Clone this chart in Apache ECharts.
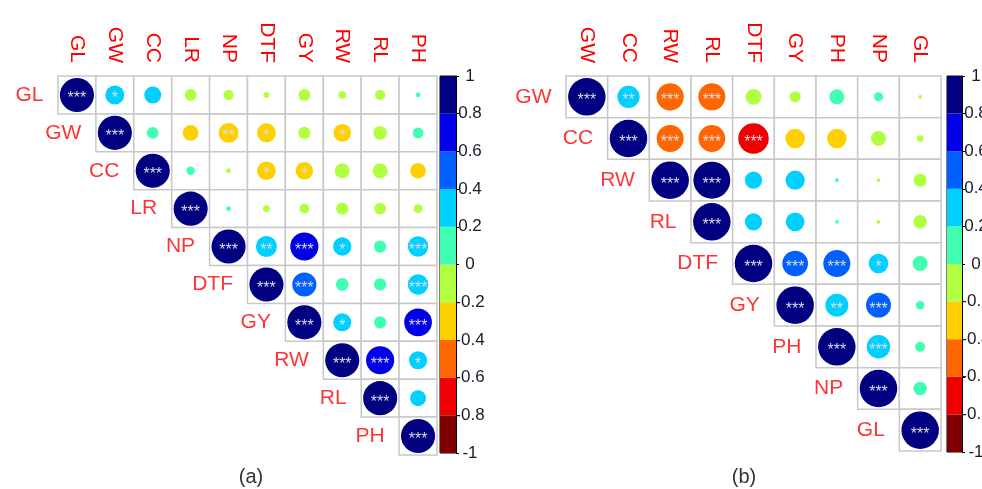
<!DOCTYPE html>
<html>
<head>
<meta charset="utf-8">
<script src="https://cdn.jsdelivr.net/npm/echarts@6/dist/echarts.min.js"></script>
<style>
  html, body { margin: 0; padding: 0; background: #fff; }
  #main { width: 982px; height: 489px; }
</style>
</head>
<body>
<div id="main"></div>
<script>
// panel (a) variables, upper triangle rows (diagonal first)
const varsA = ['GL', 'GW', 'CC', 'LR', 'NP', 'DTF', 'GY', 'RW', 'RL', 'PH']
const corrA = [
  [1, 0.31, 0.25, -0.12, -0.09, -0.03, -0.12, -0.05, -0.09, 0.02],
  [1, 0.12, -0.21, -0.34, -0.31, -0.13, -0.27, -0.16, 0.10],
  [1, 0.06, -0.02, -0.30, -0.26, -0.19, -0.19, -0.21],
  [1, 0.02, -0.04, -0.08, -0.13, -0.12, -0.07],
  [1, 0.38, 0.68, 0.29, 0.13, 0.36],
  [1, 0.50, 0.14, 0.13, 0.36],
  [1, 0.28, 0.13, 0.66],
  [1, 0.68, 0.28],
  [1, 0.22],
  [1]
]
const starsA = [
  [3, 1, 0, 0, 0, 0, 0, 0, 0, 0],
  [3, 0, 0, 2, 1, 0, 1, 0, 0],
  [3, 0, 0, 1, 1, 0, 0, 0],
  [3, 0, 0, 0, 0, 0, 0],
  [3, 2, 3, 1, 0, 3],
  [3, 3, 0, 0, 3],
  [3, 1, 0, 3],
  [3, 3, 1],
  [3, 0],
  [3]
]

// panel (b)
const varsB = ['GW', 'CC', 'RW', 'RL', 'DTF', 'GY', 'PH', 'NP', 'GL']
const corrB = [
  [1, 0.35, -0.53, -0.52, -0.18, -0.09, 0.16, 0.06, -0.01],
  [1, -0.52, -0.51, -0.66, -0.27, -0.27, -0.16, -0.03],
  [1, 0.97, 0.21, 0.26, 0.01, -0.01, -0.12],
  [1, 0.21, 0.25, 0.01, -0.01, -0.13],
  [1, 0.47, 0.52, 0.27, 0.16],
  [1, 0.37, 0.44, 0.05],
  [1, 0.39, 0.07],
  [1, 0.13],
  [1]
]
const starsB = [
  [3, 2, 3, 3, 0, 0, 0, 0, 0],
  [3, 3, 3, 3, 0, 0, 0, 0],
  [3, 3, 0, 0, 0, 0, 0],
  [3, 0, 0, 0, 0, 0],
  [3, 3, 3, 1, 0],
  [3, 2, 3, 0],
  [3, 3, 0],
  [3, 0],
  [3]
]

// colour bar: bins from -1 to 1, step 0.2
const binColors = ['#7F0000', '#EE0000', '#FF6600', '#FFD000', '#B0FF40',
  '#40FFB0', '#00D0FF', '#0060FF', '#0000E6', '#000080']
const binNames = ['b1', 'b2', 'b3', 'b4', 'b5', 'b6', 'b7', 'b8', 'b9', 'b10']
const barTicks = ['-1', '-0.8', '-0.6', '-0.4', '-0.2', '0', '0.2', '0.4', '0.6', '0.8', '1']

const font = 'Liberation Sans, Arial, sans-serif'
const red = '#FF0000'

const colorOf = (r) => binColors[Math.min(9, Math.floor((r + 1) / 0.2 + 1e-9))]

const cellData = (corr, stars) => {
  const out = []
  corr.forEach((row, i) => {
    row.forEach((r, k) => {
      out.push({ value: [i + k, i, r, stars[i][k]], itemStyle: { color: colorOf(r), opacity: 1 } })
    })
  })
  return out
}

const panelSeries = (vars, corr, stars, ax, ay, cell) => {
  const data = cellData(corr, stars)
  return [
    {
      type: 'custom',
      xAxisIndex: ax,
      yAxisIndex: ay,
      silent: true,
      z: 1,
      encode: { x: 0, y: 1 },
      data: data.map((d) => d.value),
      renderItem: (params, api) => {
        const c = api.coord([api.value(0), api.value(1)])
        const s = api.size([1, 1])
        return {
          type: 'rect',
          shape: { x: c[0] - s[0] / 2, y: c[1] - s[1] / 2, width: s[0], height: s[1] },
          style: { fill: '#fff', stroke: '#C8C8C8', lineWidth: 1.5 },
        }
      },
    },
    {
      type: 'scatter',
      xAxisIndex: ax,
      yAxisIndex: ay,
      silent: true,
      z: 3,
      data: data,
      symbol: 'circle',
      symbolSize: (val) => cell * 0.9 * Math.sqrt(Math.abs(val[2])),
      itemStyle: { opacity: 1 },
      label: {
        show: true,
        position: 'inside',
        formatter: (p) => '*'.repeat(p.value[3]),
        color: '#DCDCEA',
        fontSize: 16,
        fontFamily: font,
        offset: [0, 4],
      },
    },
    {
      // row names beside the diagonal
      type: 'scatter',
      xAxisIndex: ax,
      yAxisIndex: ay,
      silent: true,
      z: 4,
      data: vars.map((v, i) => [i, i, v]),
      symbolSize: 1,
      itemStyle: { color: 'rgba(0,0,0,0)' },
      label: {
        show: true,
        position: 'left',
        distance: cell / 2 + 14,
        formatter: (p) => p.value[2],
        color: red,
        fontSize: 21,
        fontFamily: font,
      },
    },
  ]
}

const colorBar = (ax, ay) => ({
  type: 'bar',
  xAxisIndex: ax,
  yAxisIndex: ay,
  silent: true,
  barWidth: '100%',
  data: binColors.map((c) => ({ value: 1, itemStyle: { color: c } })),
})

const matrixX = (vars, grid) => ({
  type: 'category',
  gridIndex: grid,
  data: vars,
  position: 'top',
  axisLine: { show: false },
  axisTick: { show: false },
  splitLine: { show: false },
  axisLabel: { rotate: 90, color: red, fontSize: 21, fontFamily: font, margin: 13 },
})
const matrixY = (vars, grid) => ({
  type: 'category',
  gridIndex: grid,
  data: vars,
  inverse: true,
  show: false,
})
const barX = (grid) => ({ type: 'value', gridIndex: grid, min: 0, max: 1, show: false })
const barCatY = (grid) => ({ type: 'category', gridIndex: grid, data: binNames, show: false })
const barValY = (grid) => ({
  type: 'value',
  gridIndex: grid,
  min: -1,
  max: 1,
  interval: 0.2,
  position: 'right',
  splitLine: { show: false },
  axisLine: { show: true, lineStyle: { color: '#000', width: 1 } },
  axisTick: { show: true, length: 3, lineStyle: { color: '#000' } },
  axisLabel: {
    color: '#1A1A2A',
    fontSize: 17,
    fontFamily: font,
    align: 'center',
    margin: 14,
    formatter: (v) => barTicks[Math.round((v + 1) / 0.2)],
  },
})

const chart = echarts.init(document.getElementById('main'))
const cellA = 379 / 10
const cellB = 375 / 9

chart.setOption({
  animation: false,
  backgroundColor: '#fff',
  title: [
    { text: '(a)', left: 246, top: 462, textAlign: 'center',
      textStyle: { fontSize: 20, fontWeight: 'normal', color: '#333', fontFamily: font } },
    { text: '(b)', left: 739, top: 462, textAlign: 'center',
      textStyle: { fontSize: 20, fontWeight: 'normal', color: '#333', fontFamily: font } },
  ],
  grid: [
    { left: 58, top: 76, width: 379, height: 379, outerBoundsMode: 'none' },
    { left: 440, top: 76, width: 16, height: 377, show: true, borderColor: '#000', borderWidth: 1, outerBoundsMode: 'none' },
    { left: 566, top: 76, width: 375, height: 375, outerBoundsMode: 'none' },
    { left: 947, top: 76, width: 15, height: 376, show: true, borderColor: '#000', borderWidth: 1, outerBoundsMode: 'none' },
  ],
  xAxis: [matrixX(varsA, 0), barX(1), matrixX(varsB, 2), barX(3)],
  yAxis: [matrixY(varsA, 0), barCatY(1), barValY(1), matrixY(varsB, 2), barCatY(3), barValY(3)],
  series: [
    ...panelSeries(varsA, corrA, starsA, 0, 0, cellA),
    colorBar(1, 1),
    ...panelSeries(varsB, corrB, starsB, 2, 3, cellB),
    colorBar(3, 4),
  ],
})
</script>
</body>
</html>
